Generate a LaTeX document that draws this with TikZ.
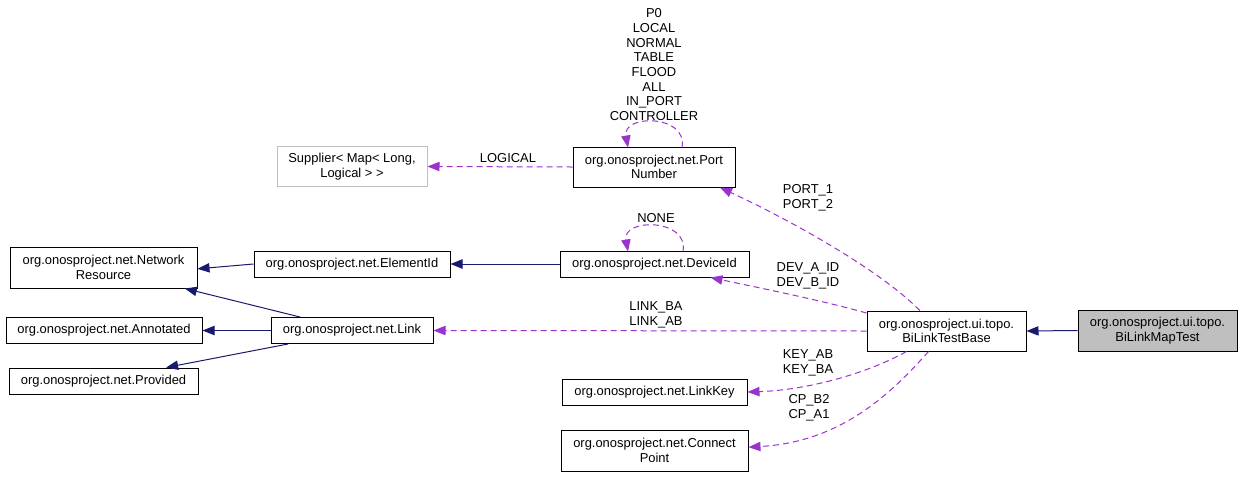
\documentclass[tikz,border=0pt]{standalone}
\usepackage{fontspec}
\setmainfont{Liberation Sans}
\usetikzlibrary{arrows.meta}
\definecolor{navy}{HTML}{191970}
\definecolor{orchid}{HTML}{9A32CD}
\definecolor{boxgray}{HTML}{BFBFBF}
\tikzset{
  box/.style={draw=black, line width=0.75pt, fill=white, align=center, inner sep=0pt,
    font=\fontsize{9.7}{11}\selectfont},
  lbl/.style={align=center, inner sep=0pt, font=\fontsize{9.7}{11}\selectfont},
  inh/.style={draw=navy, line width=0.75pt, -{Triangle[length=9pt,width=7pt]}},
  use/.style={draw=orchid, line width=0.75pt, dash pattern=on 4.5pt off 3pt, -{Triangle[length=9pt,width=7pt]}},
}
\begin{document}
\begin{tikzpicture}[x=0.75pt,y=-0.75pt]
\useasboundingbox (0,0) rectangle (1243,476);
% nodes
\node[box, minimum width=121.5pt, minimum height=30pt] (pn) at (654,167) {org.onosproject.net.Port\\Number};
\node[box, draw=boxgray, minimum width=112.5pt, minimum height=30pt] (sup) at (352,166.5) {Supplier\textless{} Map\textless{} Long,\\Logical \textgreater{} \textgreater{}};
\node[box, minimum width=140.25pt, minimum height=30.75pt] (nr) at (103.5,267.5) {org.onosproject.net.Network\\Resource};
\node[box, minimum width=147pt, minimum height=19.5pt] (eid) at (352,264) {org.onosproject.net.ElementId};
\node[box, minimum width=147pt, minimum height=19.5pt] (ann) at (104,330.5) {org.onosproject.net.Annotated};
\node[box, minimum width=121.5pt, minimum height=19.5pt] (link) at (352,330.5) {org.onosproject.net.Link};
\node[box, minimum width=141.75pt, minimum height=19.5pt] (prov) at (103.5,381) {org.onosproject.net.Provided};
\node[box, minimum width=141.75pt, minimum height=19.5pt] (did) at (654.5,264) {org.onosproject.net.DeviceId};
\node[box, minimum width=119.25pt, minimum height=30pt] (base) at (946.5,331) {org.onosproject.ui.topo.\\BiLinkTestBase};
\node[box, minimum width=138.75pt, minimum height=19.5pt] (lk) at (654.5,392) {org.onosproject.net.LinkKey};
\node[box, minimum width=140.25pt, minimum height=30.75pt] (cp) at (654.5,450.5) {org.onosproject.net.Connect\\Point};
\node[box, fill=boxgray, minimum width=119.25pt, minimum height=30.75pt] (map) at (1157.5,330.5) {org.onosproject.ui.topo.\\BiLinkMapTest};
% helper coordinates
\coordinate (pnL1) at (682,147.5);
\coordinate (pnL2) at (628,147.5);
\coordinate (didL1) at (683,251.5);
\coordinate (didL2) at (628,251.5);
% inheritance
\draw[inh] (map.west) -- (base.east);
\draw[inh] (eid.west) -- ([yshift=-1pt]nr.east);
\draw[inh] ([xshift=-39pt]link.north) -- ([xshift=61pt]nr.south);
\draw[inh] (link.west) -- (ann.east);
\draw[inh] ([xshift=-48pt]link.south) -- ([xshift=47pt]prov.north);
\draw[inh] (did.west) -- (eid.east);
% usage
\draw[use] (pn.west) -- (sup.east);
\node[lbl] (logical) at (508,158) {LOGICAL};
\draw[use] (pnL1) .. controls (688,114) and (622,114) .. (pnL2);
\node[lbl, anchor=south] (pnlbl) at (654,121) {P0\\LOCAL\\NORMAL\\TABLE\\FLOOD\\ALL\\IN\_PORT\\CONTROLLER};
\draw[use] (didL1) .. controls (689,218) and (622,218) .. (didL2);
\node[lbl] (none) at (656,218) {NONE};
\draw[use] ([xshift=-20pt]base.north) .. controls (880,270) and (790,220) .. ([xshift=49.5pt]pn.south);
\node[lbl] (portlbl) at (808,198) {PORT\_1\\PORT\_2};
\draw[use] ([yshift=13.5pt]base.west) .. controls (820,300) and (760,288) .. ([xshift=42pt]did.south);
\node[lbl] (devlbl) at (808,276) {DEV\_A\_ID\\DEV\_B\_ID};
\draw[use] (base.west) -- (link.east);
\node[lbl] (linklbl) at (656,315) {LINK\_BA\\LINK\_AB};
\draw[use] ([xshift=-30pt]base.south) .. controls (870,372) and (810,390) .. (lk.east);
\node[lbl] (keylbl) at (808,363) {KEY\_AB\\KEY\_BA};
\draw[use] ([xshift=-13.5pt]base.south) .. controls (890,395) and (840,442) .. ([yshift=2.5pt]cp.east);
\node[lbl] (cplbl) at (809,408) {CP\_B2\\CP\_A1};
\end{tikzpicture}
\end{document}
